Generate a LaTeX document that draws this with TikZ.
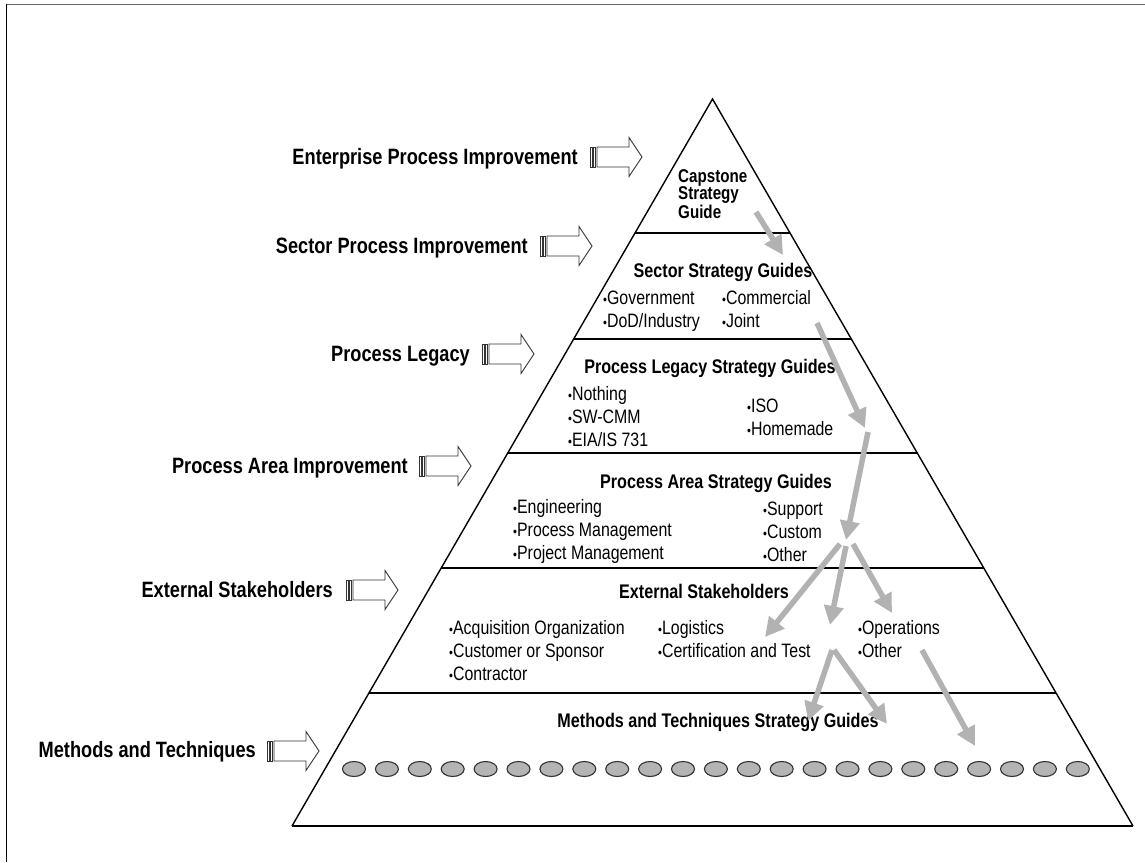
\documentclass[tikz,border=0pt]{standalone}
\usepackage{fontspec}
\setmainfont[FakeStretch=0.82]{Liberation Sans}
\usetikzlibrary{arrows.meta}
\definecolor{garrow}{RGB}{178,178,178}
\definecolor{ellfill}{RGB}{180,180,180}
\newcommand\bu{\scalebox{0.7}{•}}
\begin{document}
\begin{tikzpicture}[x=1pt,y=-1pt,
  lbl/.style={font=\bfseries\fontsize{22.2}{24}\selectfont, anchor=base east, inner sep=0pt},
  hdr/.style={font=\bfseries\fontsize{19.7}{22}\selectfont, anchor=base, inner sep=0pt},
  item/.style={font=\fontsize{19.4}{23}\selectfont, anchor=base west, align=left, inner sep=0pt},
  capbox/.style={font=\bfseries\fontsize{18.5}{17}\selectfont, anchor=base west, align=left, inner sep=0pt},
  ga/.style={draw=garrow, line width=5.5pt, -{Triangle[length=19pt,width=19pt]}},
  pedge/.style={line width=1.4pt, line join=miter},
  divider/.style={line width=2.2pt},
  ell/.style={draw=black!80, fill=ellfill, line width=1.1pt},
  sarrow/.pic={
    \draw[line width=0.9pt, draw=black!80, fill=white] (0,-10) rectangle (2,10);
    \draw[line width=0.9pt, draw=black!80, fill=white] (3.5,-10) rectangle (5.5,10);
    \draw[line width=0.9pt, draw=black!80, fill=white, line join=miter]
      (7,-10) -- (39,-10) -- (39,-19.5) -- (52,0) -- (39,19.5) -- (39,10) -- (7,10) -- cycle;
  }
]
\useasboundingbox (0,0) rectangle (1145,862);
% frame
\draw[line width=1.8pt, black!60] (6,4.5) -- (1145,4.5);
\draw[line width=1.3pt] (6.5,4) -- (6.5,862);

% pyramid
\coordinate (apex) at (712.5,99);
\coordinate (bl) at (292,826);
\coordinate (br) at (1133,826);
\draw[pedge] (bl) -- (apex) -- (br);
\draw[divider] (bl) -- (br);
\draw[divider] (635.0,233) -- (790.0,233);
\draw[divider] (573.7,339) -- (851.3,339);
\draw[divider] (507.7,453) -- (917.3,453);
\draw[divider] (441.2,568) -- (983.8,568);
\draw[divider] (368.9,693) -- (1056.1,693);

% left labels and striped arrows
\node[lbl] (l1) at (578,164.5) {Enterprise Process Improvement};
\pic at (590,157) {sarrow};
\node[lbl] (l2) at (528,253.5) {Sector Process Improvement};
\pic at (540,246) {sarrow};
\node[lbl] (l3) at (470,361.5) {Process Legacy};
\pic at (482,354) {sarrow};
\node[lbl] (l4) at (408,473.5) {Process Area Improvement};
\pic at (419,466) {sarrow};
\node[lbl] (l5) at (333,597.5) {External Stakeholders};
\pic at (346,590) {sarrow};
\node[lbl] (l6) at (256,757.5) {Methods and Techniques};
\pic at (267,751) {sarrow};

% capstone (base anchor = baseline of last line)
\node[capbox] (capst) at (678,218) {Capstone\\Strategy\\Guide};

% sector
\node[hdr] (h1) at (723,277) {Sector Strategy Guides};
\node[item] (s1) at (603,327) {\bu Government\\\bu DoD/Industry};
\node[item] (s2) at (722,327) {\bu Commercial\\\bu Joint};

% legacy
\node[hdr] (h2) at (710,373) {Process Legacy Strategy Guides};
\node[item] (p1) at (568,446) {\bu Nothing\\\bu SW-CMM\\\bu EIA/IS 731};
\node[item] (p2) at (747,435) {\bu ISO\\\bu Homemade};

% area
\node[hdr] (h3) at (716,488) {Process Area Strategy Guides};
\node[item] (a1) at (513,559) {\bu Engineering\\\bu Process Management\\\bu Project Management};
\node[item] (a2) at (763,561) {\bu Support\\\bu Custom\\\bu Other};

% external
\node[hdr] (h4) at (704,598) {External Stakeholders};
\node[item] (e1) at (449,680) {\bu Acquisition Organization\\\bu Customer or Sponsor\\\bu Contractor};
\node[item] (e2) at (658,657) {\bu Logistics\\\bu Certification and Test};
\node[item] (e3) at (858,657) {\bu Operations\\\bu Other};

% methods
\node[hdr] (h5) at (718,727) {Methods and Techniques Strategy Guides};
\foreach \i in {0,...,22}{
  \draw[ell] (354+\i*32.9,769) ellipse (11.5 and 7.5);
}

% gray flow arrows
\coordinate (c1s) at (756,212); \coordinate (c1t) at (783,255);
\coordinate (c2s) at (817,323); \coordinate (c2t) at (865,428);
\coordinate (c3s) at (868,432); \coordinate (c3t) at (846,540);
\coordinate (c4s) at (840,544); \coordinate (c4t) at (765,637);
\coordinate (c5s) at (846,546); \coordinate (c5t) at (830,625);
\coordinate (c6s) at (853,544); \coordinate (c6t) at (892,613);
\coordinate (c7s) at (832,650); \coordinate (c7t) at (808,721);
\coordinate (c8s) at (834,650); \coordinate (c8t) at (887,724);
\coordinate (c9s) at (922,650); \coordinate (c9t) at (975,746);
\foreach \k in {1,...,9}{
  \draw[ga] (c\k s) -- (c\k t);
}
\end{tikzpicture}
\end{document}
